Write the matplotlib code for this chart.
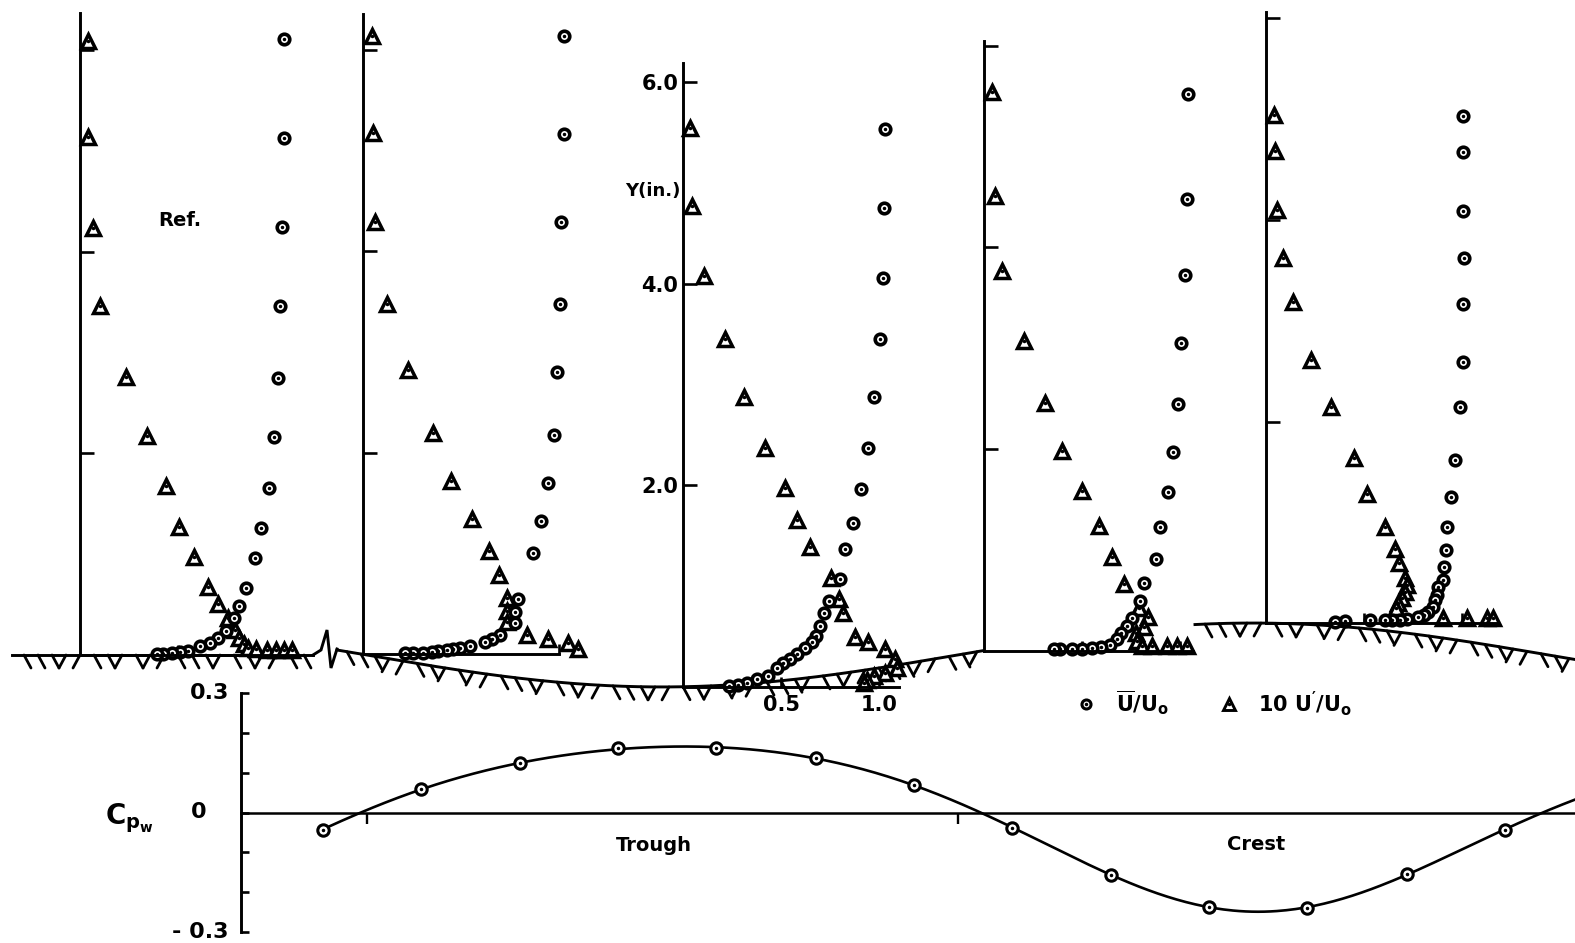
import numpy as np
import matplotlib
matplotlib.use("Agg")
import matplotlib.pyplot as plt
from matplotlib.lines import Line2D
from matplotlib.collections import LineCollection
from matplotlib.legend_handler import HandlerTuple

plt.rcParams['font.family'] = ['DejaVu Sans']
plt.rcParams['font.weight'] = 'bold'
plt.rcParams['mathtext.fontset'] = 'custom'
plt.rcParams['mathtext.rm'] = 'DejaVu Sans:bold'
plt.rcParams['mathtext.it'] = 'DejaVu Sans:bold'
plt.rcParams['mathtext.bf'] = 'DejaVu Sans:bold'
plt.rcParams['mathtext.default'] = 'rm'

# ---------------------------------------------------------------------------
# Velocity profiles.  Y in inches above the local wall;
# "mean" = U/U0 (circles), "turb" = 10 u'/U0 (triangles)
# ---------------------------------------------------------------------------
# Station 1 - upstream reference on the flat plate
s1_mean_y = [6.11, 5.13, 4.25, 3.46, 2.75, 2.16, 1.66, 1.26, 0.96, 0.66, 0.49,
             0.37, 0.24, 0.17, 0.12, 0.09, 0.04, 0.03, 0.02, 0.01, 0.01]
s1_mean = [1.041, 1.036, 1.026, 1.020, 1.010, 0.990, 0.964, 0.923, 0.893, 0.847,
           0.811, 0.781, 0.745, 0.704, 0.663, 0.612, 0.551, 0.510, 0.469, 0.423, 0.388]
s1_turb_y = [6.09, 5.14, 4.24, 3.46, 2.76, 2.17, 1.68, 1.27, 0.97, 0.67, 0.51,
             0.37, 0.25, 0.17, 0.11, 0.07, 0.06, 0.05, 0.05, 0.05, 0.05]
s1_turb = [0.036, 0.041, 0.066, 0.102, 0.230, 0.342, 0.434, 0.505, 0.577, 0.653,
           0.704, 0.755, 0.791, 0.811, 0.832, 0.857, 0.898, 0.954, 1.000, 1.041, 1.077]

# Station 2 - upstream slope
s2_mean_y = [6.13, 5.16, 4.29, 3.48, 2.80, 2.18, 1.70, 1.32, 1.01, 0.55, 0.42, 0.31,
             0.19, 0.15, 0.12, 0.08, 0.06, 0.05, 0.04, 0.03, 0.02, 0.01, 0.01, 0.01]
s2_mean = [1.026, 1.026, 1.010, 1.005, 0.990, 0.974, 0.944, 0.908, 0.867, 0.791, 0.776,
           0.776, 0.699, 0.658, 0.622, 0.546, 0.495, 0.459, 0.429, 0.383, 0.352, 0.306,
           0.255, 0.214]
s2_turb_y = [6.13, 5.17, 4.29, 3.48, 2.82, 2.20, 1.72, 1.34, 1.03, 0.79, 0.56, 0.43,
             0.32, 0.19, 0.15, 0.11, 0.05]
s2_turb = [0.046, 0.051, 0.061, 0.122, 0.230, 0.357, 0.449, 0.556, 0.643, 0.694,
           0.735, 0.735, 0.735, 0.837, 0.944, 1.046, 1.097]

# Station 3 - trough
s3_mean_y = [5.53, 4.75, 4.06, 3.45, 2.87, 2.37, 1.96, 1.62, 1.37, 1.07, 0.85, 0.73,
             0.60, 0.50, 0.44, 0.38, 0.32, 0.28, 0.24, 0.19, 0.11, 0.08, 0.04, 0.02, 0.01]
s3_mean = [1.031, 1.026, 1.020, 1.005, 0.974, 0.944, 0.908, 0.867, 0.827, 0.801, 0.745,
           0.719, 0.699, 0.679, 0.658, 0.622, 0.582, 0.546, 0.510, 0.480, 0.434, 0.378,
           0.327, 0.281, 0.235]
s3_turb_y = [5.54, 4.77, 4.07, 3.45, 2.87, 2.37, 1.97, 1.65, 1.39, 1.08, 0.87, 0.73,
             0.49, 0.44, 0.37, 0.28, 0.19, 0.14, 0.11, 0.07, 0.04]
s3_turb = [0.036, 0.046, 0.107, 0.214, 0.311, 0.418, 0.520, 0.582, 0.648, 0.755, 0.796,
           0.816, 0.878, 0.944, 1.031, 1.082, 1.092, 1.031, 0.974, 0.939, 0.923]

# Station 4 - downstream slope
s4_mean_y = [5.52, 4.48, 3.73, 3.05, 2.45, 1.97, 1.57, 1.23, 0.91, 0.67, 0.49, 0.32,
             0.24, 0.17, 0.12, 0.06, 0.04, 0.03, 0.02, 0.02, 0.02, 0.02]
s4_mean = [1.041, 1.036, 1.026, 1.010, 0.990, 0.969, 0.939, 0.903, 0.878, 0.821, 0.796,
           0.760, 0.730, 0.704, 0.679, 0.643, 0.597, 0.551, 0.505, 0.454, 0.388, 0.362]
s4_turb_y = [5.54, 4.51, 3.77, 3.07, 2.46, 1.98, 1.58, 1.24, 0.93, 0.66, 0.42, 0.33,
             0.23, 0.17, 0.10, 0.05, 0.05, 0.05, 0.05, 0.05]
s4_turb = [0.041, 0.061, 0.092, 0.209, 0.316, 0.403, 0.500, 0.587, 0.658, 0.719, 0.791,
           0.837, 0.821, 0.776, 0.781, 0.811, 0.862, 0.934, 0.985, 1.036]

# Station 5 - crest
s5_mean_y = [5.03, 4.67, 4.09, 3.62, 3.17, 2.59, 2.14, 1.62, 1.25, 0.95, 0.73, 0.56,
             0.43, 0.36, 0.28, 0.23, 0.16, 0.11, 0.08, 0.06, 0.04, 0.03, 0.03, 0.03,
             0.03, 0.02, 0.01]
s5_mean = [1.005, 1.005, 1.005, 1.010, 1.005, 1.005, 0.990, 0.964, 0.944, 0.923, 0.918,
           0.908, 0.903, 0.878, 0.872, 0.862, 0.852, 0.827, 0.806, 0.776, 0.719, 0.684,
           0.643, 0.607, 0.531, 0.403, 0.352]
s5_turb_y = [5.04, 4.68, 4.10, 3.62, 3.19, 2.61, 2.14, 1.64, 1.28, 0.95, 0.74, 0.60,
             0.45, 0.38, 0.31, 0.25, 0.20, 0.15, 0.05, 0.05, 0.05, 0.05]
s5_turb = [0.041, 0.046, 0.056, 0.087, 0.138, 0.230, 0.332, 0.449, 0.515, 0.607, 0.658,
           0.679, 0.709, 0.719, 0.709, 0.694, 0.673, 0.663, 0.903, 1.026, 1.128, 1.158]

# Station positions along the wave (x / wavelength; trough at 0.5, crest at 1.0)
station_x = [0.008, 0.247, 0.518, 0.772, 1.011]
station_on_wave = [False, True, True, True, True]
axis_top = [6.37, 6.35, 6.19, 6.05, 6.06]        # height of each Y axis, in.
baseline_end = [1.10, 1.00, 1.10, 1.07, 1.18]    # length of each U/U0 base line

# Wall pressure coefficient along the wave
cp_x = [0.213, 0.296, 0.380, 0.463, 0.546, 0.630, 0.713, 0.796, 0.880, 0.963,
        1.046, 1.130, 1.213]
cp_w = [-0.043, 0.058, 0.124, 0.161, 0.161, 0.138, 0.068, -0.038, -0.156, -0.237,
        -0.240, -0.154, -0.043]

wave_amplitude = 0.317   # in.

# ---------------------------------------------------------------------------
# Layout (pixels of the 1575 x 943 canvas)
# ---------------------------------------------------------------------------
W, H, DPI = 1575, 943, 100
PX_LAMBDA = 1182.0     # one wavelength
X_ORIGIN = 71.0        # pixel column of x/lambda = 0
PX_IN = 100.8          # one inch of Y
MEAN_ROW = 655.0       # pixel row of the mean wall level
PX_U = 196.0           # one unit of U/U0

LW = 2.1
INK = 'black'

fig = plt.figure(figsize=(W / DPI, H / DPI), dpi=DPI)
fig.patch.set_facecolor('white')

# ---- wall / ground axes covering the whole canvas --------------------------
ax_g = fig.add_axes([0, 0, 1, 1])
ax_g.set_xlim(-X_ORIGIN / PX_LAMBDA, (W - X_ORIGIN) / PX_LAMBDA)
ax_g.set_ylim(-(H - MEAN_ROW) / PX_IN, MEAN_ROW / PX_IN)
ax_g.axis('off')


def wall(x):
    return wave_amplitude * np.cos(2 * np.pi * np.asarray(x))


# stroke directions for the wall hatching
HATCH = "\\\\\\//\\\\/\\//\\\\\\/\\\\//"


def hatch(x, y):
    dx, dy = 7 / PX_LAMBDA, 13 / PX_IN
    segs = []
    for i, (xi, yi) in enumerate(zip(x, y)):
        c = HATCH[i % len(HATCH)]
        sgn = 1 if c == '\\' else -1
        segs.append([(xi, yi), (xi + sgn * dx, yi - dy)])
    ax_g.add_collection(LineCollection(segs, colors=INK, linewidths=2.0,
                                       capstyle='round'))


# flat reference plate
flat_start, flat_end = (12 - X_ORIGIN) / PX_LAMBDA, (313 - X_ORIGIN) / PX_LAMBDA
ax_g.plot([flat_start, flat_end], [0, 0], color=INK, lw=LW)
hx = np.arange(flat_start + 12 / PX_LAMBDA, flat_end - 4 / PX_LAMBDA, 14 / PX_LAMBDA)
hatch(hx, np.zeros_like(hx))

# break symbol between flat plate and wave
brk_dx = np.array([0, 8, 14, 18, 24]) / PX_LAMBDA
brk_dy = np.array([0, 5, 25, -13, 6]) / PX_IN
ax_g.plot(flat_end + brk_dx, brk_dy, color=INK, lw=LW, solid_joinstyle='miter')

# wavy wall, two visible pieces
wave_pieces = [((337 - X_ORIGIN) / PX_LAMBDA, station_x[3]),
               ((1195 - X_ORIGIN) / PX_LAMBDA, (W - X_ORIGIN) / PX_LAMBDA)]
for a, b in wave_pieces:
    xx = np.linspace(a, b, 300)
    ax_g.plot(xx, wall(xx), color=INK, lw=LW)
    hx = np.arange(a + 10 / PX_LAMBDA, b - 2 / PX_LAMBDA, 14 / PX_LAMBDA)
    hatch(hx, wall(hx))

# ---- profile panels ---------------------------------------------------------
profiles = [
    (s1_mean, s1_mean_y, s1_turb, s1_turb_y),
    (s2_mean, s2_mean_y, s2_turb, s2_turb_y),
    (s3_mean, s3_mean_y, s3_turb, s3_turb_y),
    (s4_mean, s4_mean_y, s4_turb, s4_turb_y),
    (s5_mean, s5_mean_y, s5_turb, s5_turb_y),
]

U_SPAN, Y_SPAN = 1.3, 6.5
to_fig = fig.transFigure.inverted()

circ_kw = dict(ls='none', marker='o', ms=7.6, mfc='white', mec=INK, mew=2.6, clip_on=False)
tri_kw = dict(ls='none', marker='^', ms=9.8, mfc='white', mec=INK, mew=2.5, clip_on=False)
dot_kw = dict(ls='none', marker='o', ms=1.5, color=INK, clip_on=False)

panels = []
for i, (um, ym, ut, yt) in enumerate(profiles):
    xs = station_x[i]
    ys = float(wall(xs)) if station_on_wave[i] else 0.0
    fx, fy = to_fig.transform(ax_g.transData.transform((xs, ys)))
    ax = fig.add_axes([fx, fy, U_SPAN * PX_U / W, Y_SPAN * PX_IN / H])
    ax.set_xlim(0, U_SPAN)
    ax.set_ylim(0, Y_SPAN)
    ax.patch.set_visible(False)
    for side in ('top', 'right'):
        ax.spines[side].set_visible(False)
    ax.spines['left'].set_bounds(0, axis_top[i])
    ax.spines['bottom'].set_bounds(0, baseline_end[i])
    for side in ('left', 'bottom'):
        ax.spines[side].set_linewidth(LW)
    ax.set_yticks([2, 4, 6])
    ax.set_xticks([0.5, 1.0])
    ax.tick_params(axis='y', direction='in', length=10, width=1.9, pad=3.5,
                   labelsize=15)
    ax.tick_params(axis='x', direction='in', length=7, width=1.9, pad=6,
                   labelsize=15)
    if i == 2:
        ax.set_yticklabels(['2.0', '4.0', '6.0'], fontweight='bold')
        ax.set_xticklabels(['0.5', '1.0'], fontweight='bold')
    else:
        ax.tick_params(labelleft=False, labelbottom=False)
    ax.plot(ut, yt, **tri_kw)
    ax.plot(ut, yt, **dot_kw)
    ax.plot(um, ym, **circ_kw)
    ax.plot(um, ym, **dot_kw)
    panels.append(ax)

panels[0].text(0.505, 4.31, 'Ref.', ha='center', va='center', fontsize=14,
               fontweight='bold')
panels[2].text(-3 / PX_U, 4.92, 'Y(in.)', ha='right', va='center', fontsize=13,
               fontweight='bold')


# legend for the two symbols
def handle(kw, **over):
    d = {k: v for k, v in kw.items() if k != 'clip_on'}
    d.update(over)
    return Line2D([], [], **d)


h_circ = (handle(circ_kw, ms=6.5, mew=2.2), handle(dot_kw))
h_tri = (handle(tri_kw, ms=8.0, mew=2.1), handle(dot_kw))
fig.legend([h_circ, h_tri], [r'$\overline{U}/U_o$', r"$10\ U'/U_o$"],
           handler_map={tuple: HandlerTuple(ndivide=1)},
           loc='center left', bbox_to_anchor=(1076 / W, 1 - 703 / H),
           ncol=2, frameon=False, fontsize=15, handlelength=1.0,
           handletextpad=0.9, columnspacing=2.4, borderaxespad=0, borderpad=0)

# ---- wall pressure coefficient -------------------------------------------------
CP_LEFT, CP_TOP, CP_BOTTOM = 241.0, 693.0, 932.0
ax_c = fig.add_axes([CP_LEFT / W, (H - CP_BOTTOM) / H, (W - CP_LEFT) / W,
                     (CP_BOTTOM - CP_TOP) / H])
ax_c.set_xlim((CP_LEFT - X_ORIGIN) / PX_LAMBDA, (W - X_ORIGIN) / PX_LAMBDA)
ax_c.set_ylim(-0.3, 0.3)
ax_c.patch.set_visible(False)
for side in ('top', 'right'):
    ax_c.spines[side].set_visible(False)
ax_c.spines['bottom'].set_position(('data', 0))
ax_c.spines['left'].set_linewidth(LW)
ax_c.spines['bottom'].set_linewidth(1.8)
ax_c.set_yticks(np.round(np.arange(-0.3, 0.31, 0.1), 1))
ax_c.set_xticks([0.25, 0.75])
ax_c.tick_params(axis='y', direction='in', length=6, width=1.9, labelleft=False)
ax_c.tick_params(axis='x', direction='out', length=8, width=1.7, labelbottom=False)

# faired curve: least-squares harmonic fit over one wavelength
cx, cy = np.asarray(cp_x), np.asarray(cp_w)


def harmonics(x, n=3):
    cols = [np.ones_like(x)]
    for k in range(1, n + 1):
        cols += [np.cos(2 * np.pi * k * x), np.sin(2 * np.pi * k * x)]
    return np.column_stack(cols)


coef, *_ = np.linalg.lstsq(harmonics(cx), cy, rcond=None)
xf = np.linspace(cx[0], (W - X_ORIGIN) / PX_LAMBDA, 400)
ax_c.plot(xf, harmonics(xf) @ coef, color=INK, lw=1.9, clip_on=False)
ax_c.plot(cx, cy, ls='none', marker='o', ms=8.2, mfc='white', mec=INK, mew=2.2,
          clip_on=False)
ax_c.plot(cx, cy, ls='none', marker='o', ms=1.5, color=INK, clip_on=False)

ytr = ax_c.get_yaxis_transform()
ax_c.text(-12 / (W - CP_LEFT), 0.3, '0.3', transform=ytr, ha='right', va='center',
          fontsize=16, fontweight='bold')
ax_c.text(-34 / (W - CP_LEFT), 0.0, '0', transform=ytr, ha='right', va='center',
          fontsize=16, fontweight='bold')
ax_c.text(-12 / (W - CP_LEFT), -0.3, '- 0.3', transform=ytr, ha='right', va='center',
          fontsize=16, fontweight='bold')
ax_c.text(-136 / (W - CP_LEFT), -0.03, r'$C_{p_w}$', transform=ytr, ha='left',
          va='baseline', fontsize=20)
ax_c.text(0.493, -0.082, 'Trough', ha='center', va='center', fontsize=14,
          fontweight='bold')
ax_c.text(1.003, -0.080, 'Crest', ha='center', va='center', fontsize=14,
          fontweight='bold')

fig.savefig('out.png', dpi=DPI, facecolor='white')
